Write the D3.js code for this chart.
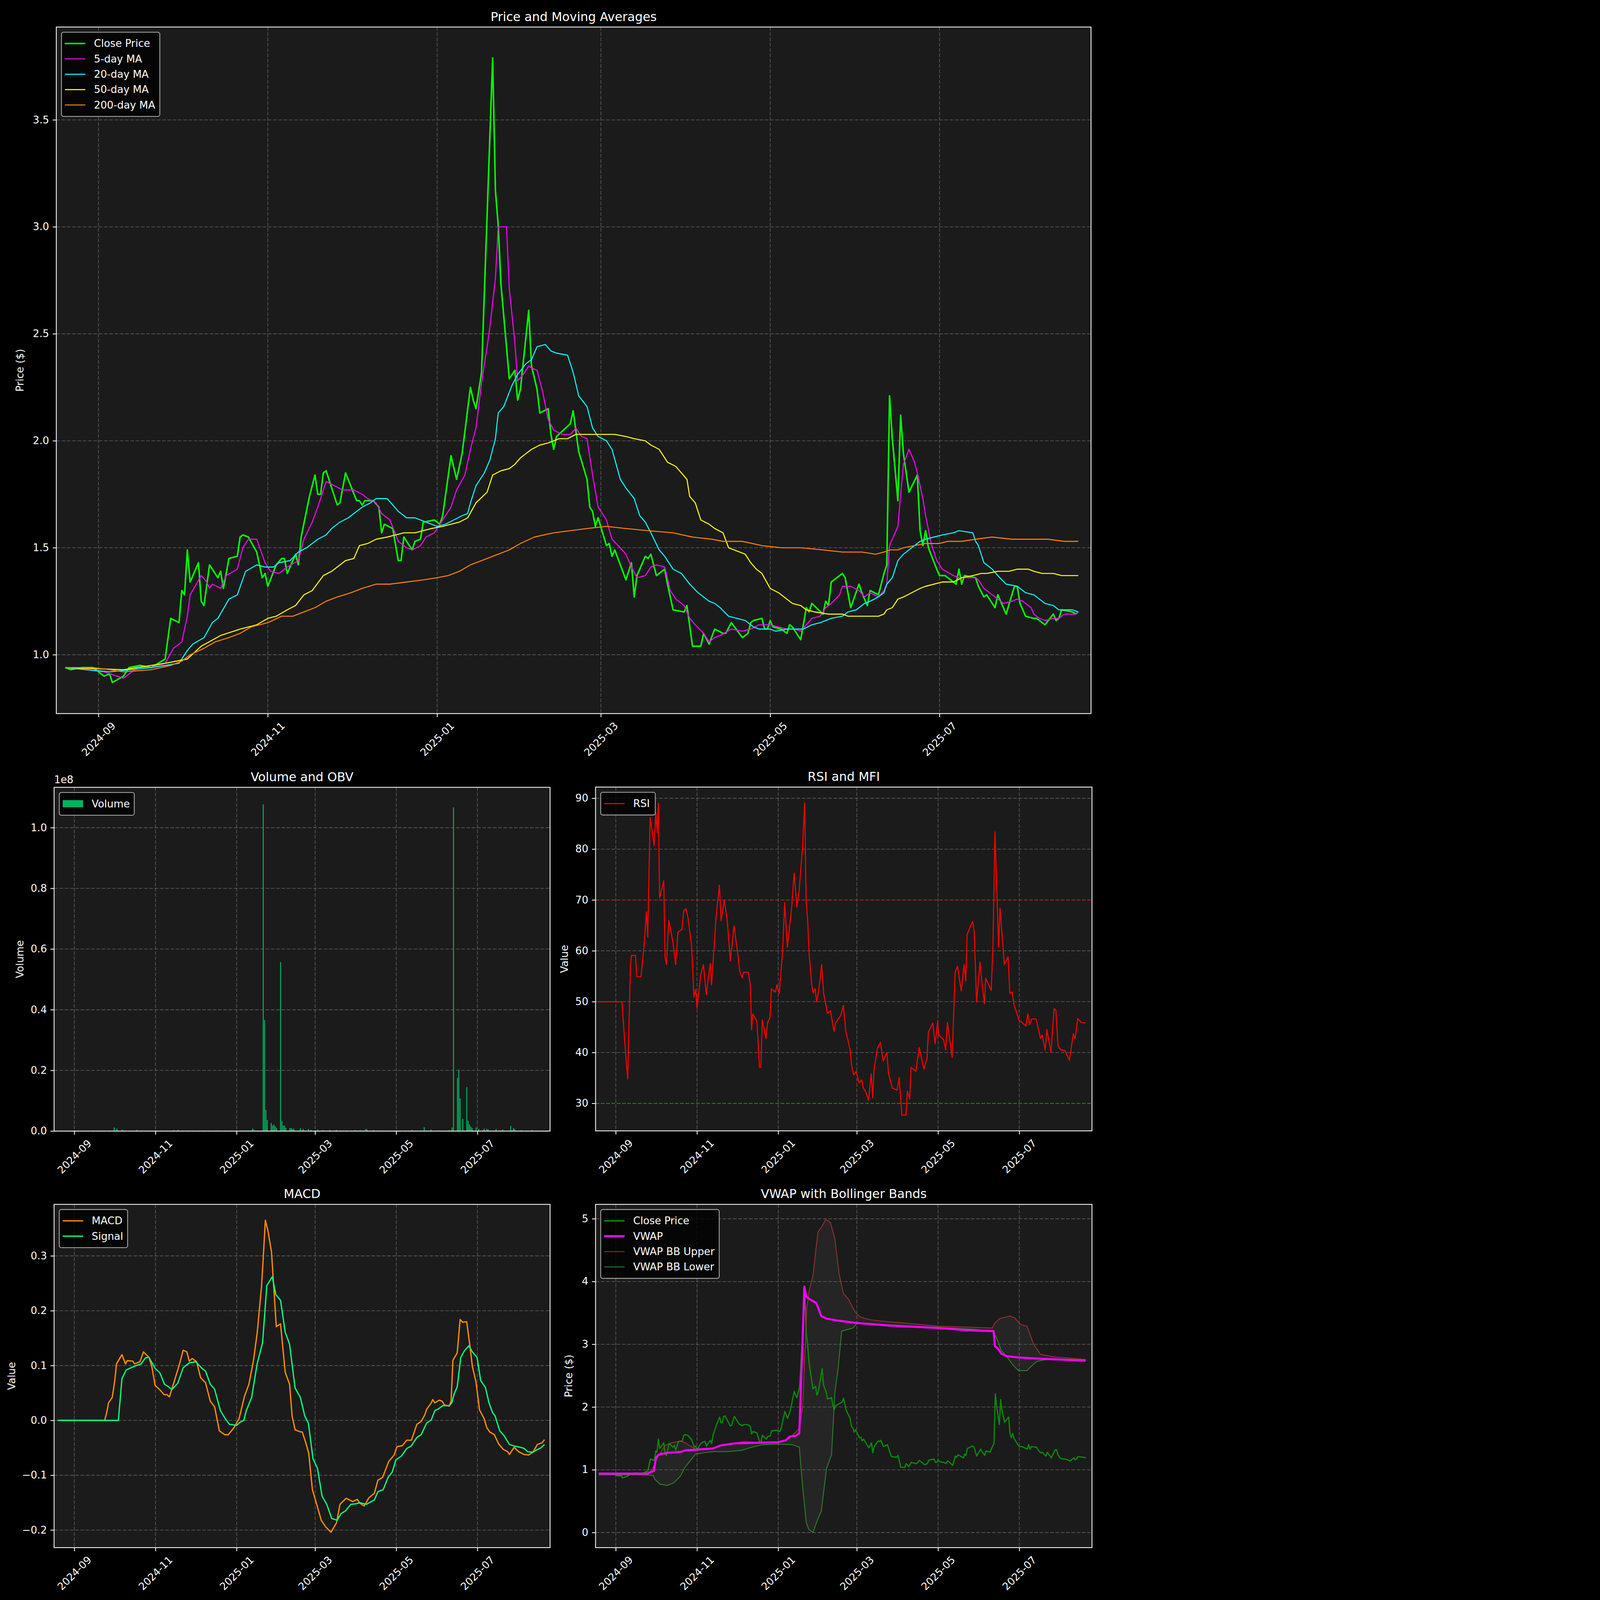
<!DOCTYPE html>
<html><head><meta charset="utf-8">
<script src="https://cdn.jsdelivr.net/npm/d3@7/dist/d3.min.js"></script>
<style>html,body{margin:0;padding:0;background:#000;overflow:hidden;}svg{display:block;font-family:"DejaVu Sans",sans-serif;}</style>
</head><body>
<script>
// ---------------- DATA ----------------
const closePrice = [["2024-08-20",.94],["2024-08-22",.93],["2024-08-26",.94],["2024-08-30",.94],["2024-09-03",.90],["2024-09-05",.91],["2024-09-06",.87],["2024-09-10",.90],["2024-09-12",.94],["2024-09-16",.95],["2024-09-20",.94],["2024-09-25",.98],["2024-09-27",1.17],["2024-09-30",1.15],["2024-10-01",1.30],["2024-10-02",1.28],["2024-10-03",1.49],["2024-10-04",1.34],["2024-10-07",1.43],["2024-10-08",1.25],["2024-10-09",1.23],["2024-10-11",1.42],["2024-10-14",1.36],["2024-10-15",1.39],["2024-10-16",1.31],["2024-10-18",1.45],["2024-10-21",1.46],["2024-10-22",1.55],["2024-10-23",1.56],["2024-10-25",1.55],["2024-10-28",1.48],["2024-10-30",1.36],["2024-10-31",1.38],["2024-11-01",1.32],["2024-11-04",1.42],["2024-11-06",1.45],["2024-11-07",1.45],["2024-11-08",1.38],["2024-11-11",1.47],["2024-11-12",1.42],["2024-11-13",1.55],["2024-11-16",1.74],["2024-11-18",1.84],["2024-11-19",1.75],["2024-11-20",1.75],["2024-11-21",1.85],["2024-11-22",1.86],["2024-11-26",1.70],["2024-11-27",1.71],["2024-11-29",1.85],["2024-12-03",1.72],["2024-12-04",1.72],["2024-12-05",1.70],["2024-12-06",1.72],["2024-12-09",1.72],["2024-12-11",1.69],["2024-12-12",1.57],["2024-12-13",1.61],["2024-12-16",1.59],["2024-12-18",1.44],["2024-12-19",1.44],["2024-12-20",1.55],["2024-12-23",1.49],["2024-12-24",1.53],["2024-12-26",1.54],["2024-12-27",1.62],["2024-12-31",1.63],["2025-01-02",1.61],["2025-01-03",1.65],["2025-01-06",1.93],["2025-01-08",1.82],["2025-01-10",1.94],["2025-01-13",2.25],["2025-01-14",2.19],["2025-01-15",2.15],["2025-01-17",2.32],["2025-01-21",3.79],["2025-01-22",3.17],["2025-01-23",3.01],["2025-01-24",2.73],["2025-01-27",2.29],["2025-01-28",2.31],["2025-01-29",2.33],["2025-01-30",2.19],["2025-01-31",2.24],["2025-02-03",2.61],["2025-02-04",2.35],["2025-02-06",2.24],["2025-02-07",2.13],["2025-02-10",2.15],["2025-02-11",2.03],["2025-02-12",1.96],["2025-02-13",2.02],["2025-02-18",2.08],["2025-02-19",2.14],["2025-02-21",1.95],["2025-02-24",1.82],["2025-02-25",1.69],["2025-02-26",1.67],["2025-02-27",1.60],["2025-02-28",1.64],["2025-03-03",1.51],["2025-03-04",1.52],["2025-03-05",1.46],["2025-03-06",1.49],["2025-03-10",1.35],["2025-03-12",1.43],["2025-03-13",1.27],["2025-03-14",1.37],["2025-03-17",1.46],["2025-03-18",1.45],["2025-03-19",1.47],["2025-03-21",1.37],["2025-03-24",1.40],["2025-03-25",1.33],["2025-03-27",1.21],["2025-03-31",1.20],["2025-04-01",1.23],["2025-04-03",1.04],["2025-04-06",1.04],["2025-04-07",1.10],["2025-04-09",1.05],["2025-04-11",1.12],["2025-04-14",1.10],["2025-04-15",1.10],["2025-04-17",1.15],["2025-04-21",1.08],["2025-04-23",1.10],["2025-04-24",1.15],["2025-04-25",1.16],["2025-04-28",1.17],["2025-04-29",1.12],["2025-04-30",1.12],["2025-05-01",1.16],["2025-05-02",1.13],["2025-05-05",1.12],["2025-05-07",1.10],["2025-05-08",1.14],["2025-05-09",1.13],["2025-05-12",1.07],["2025-05-14",1.22],["2025-05-15",1.20],["2025-05-16",1.24],["2025-05-20",1.19],["2025-05-21",1.25],["2025-05-22",1.23],["2025-05-23",1.34],["2025-05-27",1.38],["2025-05-28",1.36],["2025-05-30",1.22],["2025-06-02",1.33],["2025-06-03",1.29],["2025-06-05",1.23],["2025-06-06",1.30],["2025-06-09",1.28],["2025-06-11",1.38],["2025-06-12",1.42],["2025-06-13",2.21],["2025-06-14",2.01],["2025-06-16",1.72],["2025-06-17",2.12],["2025-06-18",1.94],["2025-06-20",1.76],["2025-06-23",1.84],["2025-06-24",1.58],["2025-06-25",1.51],["2025-06-26",1.58],["2025-06-27",1.50],["2025-06-30",1.40],["2025-07-01",1.37],["2025-07-03",1.37],["2025-07-07",1.33],["2025-07-08",1.40],["2025-07-09",1.33],["2025-07-10",1.37],["2025-07-14",1.36],["2025-07-15",1.32],["2025-07-17",1.27],["2025-07-18",1.28],["2025-07-21",1.22],["2025-07-22",1.28],["2025-07-24",1.22],["2025-07-25",1.19],["2025-07-28",1.32],["2025-07-29",1.32],["2025-07-30",1.24],["2025-08-01",1.18],["2025-08-04",1.17],["2025-08-05",1.17],["2025-08-08",1.14],["2025-08-11",1.19],["2025-08-12",1.16],["2025-08-13",1.17],["2025-08-14",1.21],["2025-08-18",1.20],["2025-08-19",1.19],["2025-08-20",1.20]];

const ma5 = [["2024-08-20",.94],["2024-09-03",.92],["2024-09-10",.89],["2024-09-15",.94],["2024-09-20",.94],["2024-09-25",.96],["2024-09-28",1.03],["2024-10-01",1.06],["2024-10-03",1.18],["2024-10-04",1.28],["2024-10-08",1.37],["2024-10-10",1.34],["2024-10-11",1.31],["2024-10-12",1.33],["2024-10-15",1.31],["2024-10-17",1.37],["2024-10-21",1.40],["2024-10-23",1.50],["2024-10-25",1.54],["2024-10-28",1.54],["2024-10-31",1.43],["2024-11-02",1.39],["2024-11-05",1.38],["2024-11-08",1.41],["2024-11-12",1.44],["2024-11-14",1.54],["2024-11-17",1.62],["2024-11-19",1.69],["2024-11-22",1.81],["2024-11-25",1.79],["2024-11-28",1.77],["2024-12-02",1.77],["2024-12-05",1.75],["2024-12-07",1.73],["2024-12-10",1.71],["2024-12-12",1.66],["2024-12-15",1.63],["2024-12-18",1.53],["2024-12-21",1.50],["2024-12-23",1.49],["2024-12-26",1.51],["2024-12-28",1.55],["2024-12-31",1.57],["2025-01-03",1.63],["2025-01-06",1.69],["2025-01-08",1.77],["2025-01-11",1.84],["2025-01-13",1.96],["2025-01-15",2.06],["2025-01-17",2.27],["2025-01-19",2.44],["2025-01-20",2.53],["2025-01-22",2.76],["2025-01-23",3.00],["2025-01-26",3.00],["2025-01-27",2.71],["2025-01-29",2.46],["2025-01-30",2.28],["2025-02-01",2.31],["2025-02-03",2.35],["2025-02-04",2.34],["2025-02-06",2.33],["2025-02-08",2.23],["2025-02-10",2.10],["2025-02-12",2.05],["2025-02-15",2.03],["2025-02-18",2.03],["2025-02-20",2.06],["2025-02-22",2.02],["2025-02-24",2.01],["2025-02-26",1.84],["2025-02-28",1.69],["2025-03-03",1.63],["2025-03-05",1.54],["2025-03-08",1.50],["2025-03-10",1.47],["2025-03-12",1.41],["2025-03-14",1.36],["2025-03-17",1.37],["2025-03-19",1.41],["2025-03-21",1.42],["2025-03-24",1.41],["2025-03-26",1.30],["2025-03-28",1.26],["2025-03-31",1.23],["2025-04-02",1.17],["2025-04-04",1.14],["2025-04-07",1.10],["2025-04-09",1.06],["2025-04-11",1.08],["2025-04-13",1.09],["2025-04-17",1.12],["2025-04-21",1.11],["2025-04-24",1.12],["2025-04-27",1.14],["2025-05-01",1.14],["2025-05-04",1.13],["2025-05-07",1.12],["2025-05-10",1.12],["2025-05-12",1.11],["2025-05-14",1.14],["2025-05-16",1.17],["2025-05-19",1.18],["2025-05-21",1.22],["2025-05-23",1.24],["2025-05-26",1.28],["2025-05-27",1.32],["2025-05-30",1.32],["2025-06-02",1.30],["2025-06-04",1.27],["2025-06-06",1.29],["2025-06-09",1.27],["2025-06-11",1.30],["2025-06-12",1.33],["2025-06-13",1.51],["2025-06-16",1.60],["2025-06-18",1.89],["2025-06-20",1.96],["2025-06-22",1.90],["2025-06-23",1.85],["2025-06-25",1.73],["2025-06-26",1.65],["2025-06-28",1.52],["2025-06-30",1.44],["2025-07-02",1.40],["2025-07-06",1.37],["2025-07-08",1.36],["2025-07-10",1.36],["2025-07-14",1.36],["2025-07-15",1.35],["2025-07-17",1.31],["2025-07-20",1.28],["2025-07-22",1.26],["2025-07-24",1.24],["2025-07-27",1.25],["2025-07-29",1.26],["2025-07-31",1.25],["2025-08-03",1.22],["2025-08-04",1.19],["2025-08-06",1.17],["2025-08-08",1.16],["2025-08-11",1.17],["2025-08-13",1.17],["2025-08-15",1.19],["2025-08-19",1.19],["2025-08-20",1.20]];

const ma20 = [["2024-08-20",.94],["2024-09-05",.92],["2024-09-20",.94],["2024-09-25",.95],["2024-09-30",.96],["2024-10-03",1.02],["2024-10-05",1.05],["2024-10-09",1.08],["2024-10-12",1.15],["2024-10-14",1.17],["2024-10-18",1.26],["2024-10-21",1.28],["2024-10-24",1.39],["2024-10-28",1.42],["2024-10-31",1.41],["2024-11-03",1.41],["2024-11-05",1.43],["2024-11-09",1.44],["2024-11-12",1.48],["2024-11-15",1.50],["2024-11-19",1.54],["2024-11-22",1.56],["2024-11-24",1.59],["2024-11-27",1.62],["2024-11-30",1.64],["2024-12-02",1.66],["2024-12-05",1.69],["2024-12-08",1.71],["2024-12-10",1.73],["2024-12-14",1.73],["2024-12-18",1.67],["2024-12-21",1.64],["2024-12-24",1.64],["2024-12-28",1.62],["2025-01-01",1.60],["2025-01-04",1.61],["2025-01-07",1.63],["2025-01-10",1.65],["2025-01-12",1.66],["2025-01-13",1.71],["2025-01-15",1.79],["2025-01-18",1.85],["2025-01-20",1.91],["2025-01-22",2.01],["2025-01-23",2.13],["2025-01-25",2.16],["2025-01-28",2.26],["2025-01-30",2.31],["2025-02-02",2.36],["2025-02-04",2.38],["2025-02-06",2.44],["2025-02-09",2.45],["2025-02-11",2.42],["2025-02-13",2.41],["2025-02-17",2.40],["2025-02-19",2.32],["2025-02-21",2.21],["2025-02-24",2.16],["2025-02-26",2.06],["2025-02-28",2.02],["2025-03-03",2.00],["2025-03-05",1.96],["2025-03-08",1.82],["2025-03-10",1.78],["2025-03-13",1.73],["2025-03-15",1.65],["2025-03-17",1.62],["2025-03-19",1.57],["2025-03-22",1.49],["2025-03-24",1.46],["2025-03-27",1.40],["2025-03-30",1.38],["2025-04-02",1.33],["2025-04-05",1.29],["2025-04-09",1.25],["2025-04-11",1.24],["2025-04-13",1.22],["2025-04-16",1.18],["2025-04-22",1.16],["2025-04-25",1.13],["2025-04-27",1.12],["2025-05-01",1.12],["2025-05-03",1.11],["2025-05-07",1.12],["2025-05-09",1.12],["2025-05-13",1.12],["2025-05-16",1.14],["2025-05-19",1.15],["2025-05-21",1.16],["2025-05-23",1.17],["2025-05-27",1.18],["2025-05-29",1.20],["2025-06-01",1.21],["2025-06-04",1.24],["2025-06-06",1.25],["2025-06-09",1.27],["2025-06-11",1.29],["2025-06-12",1.33],["2025-06-14",1.36],["2025-06-16",1.44],["2025-06-18",1.47],["2025-06-21",1.50],["2025-06-24",1.53],["2025-06-26",1.54],["2025-06-29",1.55],["2025-07-02",1.56],["2025-07-06",1.57],["2025-07-08",1.58],["2025-07-13",1.57],["2025-07-14",1.53],["2025-07-15",1.51],["2025-07-17",1.43],["2025-07-20",1.40],["2025-07-22",1.37],["2025-07-25",1.33],["2025-07-29",1.32],["2025-08-01",1.29],["2025-08-04",1.28],["2025-08-06",1.26],["2025-08-08",1.24],["2025-08-11",1.23],["2025-08-13",1.21],["2025-08-16",1.21],["2025-08-18",1.21],["2025-08-20",1.20]];

const ma50 = [["2024-08-20",.94],["2024-09-10",.93],["2024-09-25",.96],["2024-10-03",.98],["2024-10-08",1.04],["2024-10-15",1.09],["2024-10-22",1.12],["2024-10-28",1.14],["2024-11-01",1.17],["2024-11-04",1.18],["2024-11-08",1.21],["2024-11-11",1.23],["2024-11-14",1.28],["2024-11-17",1.30],["2024-11-21",1.37],["2024-11-24",1.39],["2024-11-26",1.41],["2024-11-29",1.44],["2024-12-02",1.45],["2024-12-04",1.51],["2024-12-07",1.52],["2024-12-10",1.54],["2024-12-14",1.55],["2024-12-17",1.56],["2024-12-20",1.57],["2024-12-24",1.57],["2024-12-27",1.58],["2024-12-30",1.59],["2025-01-03",1.60],["2025-01-06",1.61],["2025-01-09",1.62],["2025-01-12",1.64],["2025-01-15",1.71],["2025-01-19",1.76],["2025-01-21",1.84],["2025-01-24",1.86],["2025-01-27",1.87],["2025-01-29",1.89],["2025-01-31",1.92],["2025-02-02",1.94],["2025-02-04",1.96],["2025-02-07",1.98],["2025-02-10",1.99],["2025-02-12",2.00],["2025-02-14",2.01],["2025-02-17",2.01],["2025-02-20",2.03],["2025-02-24",2.03],["2025-03-01",2.03],["2025-03-06",2.03],["2025-03-10",2.02],["2025-03-13",2.01],["2025-03-17",2.00],["2025-03-19",1.98],["2025-03-22",1.96],["2025-03-25",1.90],["2025-03-28",1.88],["2025-04-01",1.82],["2025-04-02",1.74],["2025-04-04",1.71],["2025-04-06",1.63],["2025-04-09",1.61],["2025-04-11",1.59],["2025-04-14",1.57],["2025-04-16",1.50],["2025-04-22",1.47],["2025-04-24",1.43],["2025-04-26",1.40],["2025-04-28",1.38],["2025-05-01",1.31],["2025-05-04",1.29],["2025-05-06",1.27],["2025-05-09",1.24],["2025-05-12",1.23],["2025-05-14",1.21],["2025-05-17",1.20],["2025-05-22",1.19],["2025-05-27",1.19],["2025-05-29",1.18],["2025-06-01",1.18],["2025-06-05",1.18],["2025-06-09",1.18],["2025-06-11",1.19],["2025-06-12",1.21],["2025-06-14",1.22],["2025-06-16",1.26],["2025-06-18",1.27],["2025-06-21",1.29],["2025-06-24",1.31],["2025-06-26",1.32],["2025-06-29",1.33],["2025-07-02",1.34],["2025-07-06",1.34],["2025-07-09",1.36],["2025-07-13",1.37],["2025-07-16",1.38],["2025-07-18",1.38],["2025-07-22",1.39],["2025-07-26",1.39],["2025-07-29",1.40],["2025-08-02",1.40],["2025-08-04",1.39],["2025-08-07",1.38],["2025-08-11",1.38],["2025-08-14",1.37],["2025-08-18",1.37],["2025-08-20",1.37]];

const ma200 = [["2024-08-20",.94],["2024-08-30",.94],["2024-09-05",.93],["2024-09-10",.92],["2024-09-20",.93],["2024-09-27",.95],["2024-10-01",.97],["2024-10-04",1.00],["2024-10-09",1.03],["2024-10-13",1.06],["2024-10-18",1.08],["2024-10-22",1.10],["2024-10-26",1.13],["2024-11-01",1.15],["2024-11-06",1.18],["2024-11-10",1.18],["2024-11-14",1.20],["2024-11-18",1.22],["2024-11-22",1.25],["2024-11-26",1.27],["2024-12-01",1.29],["2024-12-05",1.31],["2024-12-10",1.33],["2024-12-15",1.33],["2024-12-21",1.34],["2024-12-27",1.35],["2025-01-01",1.36],["2025-01-05",1.37],["2025-01-09",1.39],["2025-01-13",1.42],["2025-01-17",1.44],["2025-01-21",1.46],["2025-01-27",1.49],["2025-01-31",1.52],["2025-02-05",1.55],["2025-02-12",1.57],["2025-02-18",1.58],["2025-02-24",1.59],["2025-03-03",1.60],["2025-03-10",1.59],["2025-03-18",1.58],["2025-03-27",1.57],["2025-04-03",1.55],["2025-04-10",1.54],["2025-04-14",1.53],["2025-04-21",1.53],["2025-04-28",1.51],["2025-05-05",1.50],["2025-05-12",1.50],["2025-05-20",1.49],["2025-05-27",1.48],["2025-06-03",1.48],["2025-06-08",1.47],["2025-06-11",1.48],["2025-06-13",1.49],["2025-06-16",1.49],["2025-06-18",1.50],["2025-06-22",1.51],["2025-06-26",1.52],["2025-07-01",1.52],["2025-07-04",1.53],["2025-07-09",1.53],["2025-07-14",1.54],["2025-07-20",1.55],["2025-07-27",1.54],["2025-08-03",1.54],["2025-08-09",1.54],["2025-08-15",1.53],["2025-08-20",1.53]];

// days counted from 2024-09-01
const volumeDays = [30,32,36,47,75,78,107,127,131,134,135,142,143,144,145,148,149,150,151,152,155,156,157,158,159,162,163,164,165,170,172,176,178,183,187,192,197,204,211,215,219,220,225,231,254,263,268,274,282,284,285,288,289,290,292,295,296,297,298,299,302,304,308,310,311,317,322,328,330,331,336,344];
const volumeVals = [.012,.008,.005,.004,.003,.004,.002,.002,.002,.008,.005,1.077,.366,.07,.037,.027,.018,.022,.016,.01,.557,.033,.018,.018,.011,.01,.01,.007,.008,.009,.007,.007,.004,.005,.003,.004,.004,.002,.003,.003,.007,.005,.003,.002,.004,.013,.005,.002,.004,.012,1.067,.175,.203,.108,.04,.145,.034,.022,.015,.01,.012,.007,.008,.007,.006,.007,.005,.017,.01,.007,.003,.003];

const rsiDays = [-12.8,4.6,6.4,8.9,11,11.7,14.8,15.8,18.9,21.2,23,24,25.8,28.8,30.1,31.1,31.9,32.9,36,37,38,39.8,42.9,44.9,46.7,49.7,51,52.6,54.1,56.9,58.7,59.9,61,63.8,65.8,67.9,70.9,71.9,75.3,77.8,79.1,81.4,83.7,86,88.8,91.8,93.1,94.9,95.9,99.5,101,102,102.8,105.9,107.9,108.9,110,112.8,114,115.8,116.8,119.9,120.9,122.7,125.3,126.8,128.8,132.1,133.9,136,137.8,140.3,141.8,142.9,144.1,145.2,147.2,148.2,149.7,150.8,152.6,154.6,156.1,158.2,158.9,161.2,163.8,165,169.1,170.9,172.7,176,177,178.6,180.6,182.7,184.7,185.7,188,189.8,191.8,192.9,193.9,196.4,198.7,200.8,203.6,204.8,207.7,211.2,212.8,214.8,217.9,218.9,220.7,221.7,225.3,227.8,231.4,233.7,234.7,238,239.8,241.8,242.3,246.2,247.7,249,252.6,254.8,256.6,259.4,261.5,262.8,263.8,267.9,269.1,270.9,273.5,274.7,276.8,277.8,281.9,283.2,284.7,286.2,287.5,288.5,291.8,294.6,295.9,297.7,299,302.8,307.9,309.4,310.7,312.2,315.6,318.9,320.2,322.4,323.7,326.8,329.1,330.4,332.1,334.2,337.2,340.6,343.6,344.9,346.9,349.5,352.8];
const rsiVals = [50,50,43.2,34.8,57,59.1,59.1,54.9,54.9,61,67.7,62.7,86.2,80.7,87.2,83.2,89,70.4,73.8,58.8,57.3,66,61.7,57.3,63.7,64.2,67.9,68.3,66.7,61,50.9,52.4,48.7,55.3,57.3,51.4,57.5,53.3,66.7,72.9,65.9,70,65.9,58,64.9,59,56,54.7,55.8,55.8,53.3,44.5,47.6,46.2,37.1,37.1,46.4,42.7,45.9,46.9,52.5,51.9,53.3,51.6,60,69.5,60.7,68.6,75.3,68.6,72.1,80.7,89.1,69.9,65.9,59.3,53.1,51.7,52.5,49.9,52.6,57.3,51.6,48.7,47.7,48.2,44.2,45.8,47.4,49.3,44.2,40.5,37.6,35.6,36.3,34,34.6,33.1,32.1,30.6,35.8,31.1,36.6,40.8,42,38.3,40,35.8,33,32.6,35.1,27.7,27.7,32.4,30.9,37.1,36.3,41,36.7,38.9,44,45.8,41.7,46.3,43.5,42.5,40.5,45.9,39,55.8,57,52.1,57.3,54.1,63.2,65.8,64,49.9,57.8,54.3,49.6,54.6,52.2,61.2,83.4,70.9,60.7,68.4,57.3,58.8,51.6,51.9,49.4,46.4,45.2,47.6,45.5,46.6,46.6,42.8,43.4,40.5,44.5,40,48.6,48.4,41.3,40.5,40.4,38.5,43.7,42.7,46.7,45.9,45.8];

const macdDays = [-12.5,22.8,24.4,25.7,28.5,30.4,31.7,35.8,38.5,39.8,43.9,45.3,49.3,52,56.1,58.3,60.7,64.2,67.5,69.6,71.5,75.1,79.1,81.8,84.6,86.4,88.6,91.9,94.9,98.6,102.2,105.4,109,113,115.7,119.8,123.8,127.9,131.2,134.7,137.4,140.7,142.3,143.6,145.5,148.2,150.9,151.8,155,158.5,161.8,163.7,165.9,169.9,171.3,174,176.2,178.9,181.6,185.6,188.9,192.9,197,199.7,204.3,209.2,212.7,214.6,217.9,221.4,225.5,228.2,231.7,236.3,240.4,242.5,246.6,249.9,253.4,257.5,260.7,263.4,264.8,268.3,269.4,271,274.3,276.4,278.3,281.8,283.2,284.6,287.8,290,291.9,294.9,297.3,299.2,301.9,304.6,308.1,310,312.2,315.7,319,322.5,325.7,327.1,330.6,333.9,337.9,341.5,344.7,348,351.5,353.4];
const macdVals = [0,0,.015,.032,.042,.073,.103,.12,.103,.109,.108,.103,.107,.125,.115,.098,.064,.056,.047,.047,.043,.071,.103,.128,.125,.108,.113,.107,.078,.069,.035,.025,-.019,-.026,-.026,-.014,.003,.044,.066,.11,.159,.244,.309,.365,.346,.307,.205,.171,.176,.088,.066,.008,-.017,-.021,-.021,-.041,-.06,-.126,-.148,-.182,-.194,-.204,-.187,-.153,-.142,-.148,-.144,-.151,-.156,-.141,-.133,-.109,-.104,-.075,-.063,-.048,-.046,-.036,-.036,-.007,-.002,.01,.02,.032,.038,.032,.037,.035,.028,.026,.035,.11,.123,.184,.179,.18,.137,.098,.07,.019,.003,-.013,-.021,-.026,-.043,-.053,-.057,-.062,-.049,-.057,-.062,-.063,-.058,-.044,-.041,-.035];
const signalDays = [-12.5,33.1,35.8,39,42.5,46.6,50.1,53.4,56.1,60.7,64.2,67.8,71,73.2,77.8,81.8,86.4,91.3,95.9,98.6,102.2,105.4,109.8,113,116.5,122,124.7,127.4,129.3,133.3,137.4,141.5,144.7,148.8,151.5,155,158.5,161.8,165.9,169.9,173.2,175.9,179.4,182.7,186.2,189.7,193.5,197.6,200.5,203.8,207.9,211.9,214.6,219.5,223.3,225.5,228.2,232.2,235.8,239,241.7,245.8,249.9,253.1,257.5,260.7,264.8,268.3,271,273.7,277,281.8,283.7,285.6,287.8,290.5,293.2,296.5,299.2,302.7,305.4,309,311.7,314.4,316.3,319.8,323.1,327.1,331.2,335.3,338,340.7,344.7,348,350.1,353.4];
const signalVals = [0,0,.076,.092,.096,.1,.103,.114,.115,.095,.087,.066,.061,.056,.068,.096,.105,.107,.095,.09,.066,.057,.018,.005,-.007,-.009,-.003,0,.018,.042,.103,.142,.246,.262,.229,.219,.161,.139,.059,.042,.008,-.005,-.07,-.087,-.138,-.153,-.179,-.182,-.17,-.165,-.153,-.152,-.15,-.153,-.148,-.145,-.13,-.126,-.104,-.094,-.072,-.065,-.051,-.047,-.031,-.026,-.005,.001,.018,.021,.027,.027,.032,.049,.061,.115,.127,.136,.125,.115,.073,.06,.032,.014,.008,-.019,-.028,-.044,-.047,-.049,-.051,-.057,-.058,-.053,-.051,-.044];

const vwapDays = [-12.8,24.2,26.8,28.6,30.1,31.9,38.3,45.9,49.7,52.3,59.9,72.7,79.1,89.3,104.6,121.9,127.6,130.6,134.7,137.8,140.3,141.6,142.9,145.4,150.5,152,154.3,158.2,165.8,180.9,204.1,241.8,267.9,283.7,284.7,287,289.5,293.4,302.6,318.9,352.8];
const vwapVals = [.94,.94,.97,.98,1.19,1.24,1.27,1.28,1.29,1.31,1.32,1.34,1.39,1.42,1.43,1.44,1.47,1.53,1.54,1.58,3.07,3.92,3.77,3.72,3.66,3.58,3.45,3.41,3.38,3.34,3.30,3.26,3.22,3.21,2.97,2.93,2.85,2.81,2.79,2.77,2.74];
const bbUpperDays = [-12.8,23,26.8,29.3,31.9,37,42.1,48.5,52.3,56.6,59.9,63.8,72.7,79.1,89.3,96.9,104.6,121.9,130.1,137.8,140.3,141.6,143.4,145.4,148,151.8,154.3,157.7,161.2,164.5,167.8,170.9,174.7,178.1,180.6,184.2,191.3,204.1,216.8,241.8,267.9,282.7,284.7,288.3,295.9,299.7,303.6,308.7,313.8,318.9,329.1,352.8];
const bbUpperVals = [.94,.95,.98,1.10,1.22,1.39,1.43,1.46,1.43,1.37,1.33,1.34,1.34,1.39,1.43,1.45,1.44,1.44,1.49,1.66,2.00,2.64,3.58,3.87,4.09,4.79,4.86,4.99,4.94,4.68,4.11,3.81,3.72,3.58,3.49,3.43,3.39,3.36,3.34,3.29,3.27,3.26,3.34,3.41,3.45,3.42,3.32,3.29,3.00,2.84,2.80,2.76];
const bbLowerDays = [-12.8,23,28.1,29.3,33.2,38.3,43.4,48.5,52.3,56.6,59.9,68.9,74,84.2,94.4,102,109.7,121.9,132.7,137.8,140.3,142.9,144.9,148,151.8,154.3,158.2,162,164.5,167.1,169.6,174.7,178.1,181.1,183.7,204.1,241.8,267.9,282.7,285.7,289.5,293.4,298.5,302.6,308.7,312.5,316.3,324,352.8];
const bbLowerVals = [.92,.92,.91,.85,.77,.75,.79,.90,1.05,1.16,1.25,1.28,1.29,1.29,1.31,1.36,1.40,1.41,1.40,1.36,.73,.17,.05,0,.22,.34,1.02,1.24,2.22,2.64,3.21,3.24,3.26,3.33,3.34,3.31,3.27,3.24,3.21,3.11,2.90,2.81,2.66,2.58,2.58,2.66,2.73,2.76,2.73];

const xTickLabels = ["2024-09","2024-11","2025-01","2025-03","2025-05","2025-07"];
const priceTicks = [1.0,1.5,2.0,2.5,3.0,3.5];
const volumeTicks = [0,0.2,0.4,0.6,0.8,1.0];
const rsiTicks = [30,40,50,60,70,80,90];
const macdTicks = [-0.2,-0.1,0,0.1,0.2,0.3];
const vwapTicks = [0,1,2,3,4,5];

// ---------------- DRAWING ----------------
const W = 4470, H = 6507, FS = 41.7;
const parse = d3.timeParse("%Y-%m-%d");
const base = new Date(2024, 8, 1);
const fromDay = d => d3.timeHour.offset(base, Math.round(d * 24));
const pairs = arr => arr.map(d => ({x: parse(d[0]), y: d[1]}));
const zip = (ds, vs) => ds.map((d, i) => ({x: fromDay(d), y: vs[i]}));

const svg = d3.select("body").append("svg")
  .attr("viewBox", `0 0 ${W} ${H}`).attr("preserveAspectRatio", "xMinYMin meet")
  .style("width", "100vw").style("height", "100vh");
svg.append("rect").attr("width", W).attr("height", H).attr("fill", "#000");

const xDom = [fromDay(-15.2), fromDay(357.6)];

function panel(o) {
  const g = svg.append("g").attr("transform", `translate(${o.x},${o.y})`);
  const x = d3.scaleTime().domain(o.xDom || xDom).range([0, o.w]);
  const y = d3.scaleLinear().domain(o.yDom).range([o.h, 0]);
  g.append("rect").attr("width", o.w).attr("height", o.h).attr("fill", "#1b1b1b");
  const xt = xTickLabels.map(s => d3.timeParse("%Y-%m")(s));
  g.selectAll(".gx").data(xt).join("line").attr("x1", d => x(d)).attr("x2", d => x(d))
    .attr("y1", 0).attr("y2", o.h).attr("stroke", "#7a7a7a").attr("stroke-opacity", .7)
    .attr("stroke-width", 2.5).attr("stroke-dasharray", "15,6.5");
  g.selectAll(".gy").data(o.yTicks).join("line").attr("y1", d => y(d)).attr("y2", d => y(d))
    .attr("x1", 0).attr("x2", o.w).attr("stroke", "#7a7a7a").attr("stroke-opacity", .7)
    .attr("stroke-width", 2.5).attr("stroke-dasharray", "15,6.5");
  const clip = "c" + Math.round(o.x) + "_" + Math.round(o.y);
  g.append("clipPath").attr("id", clip).append("rect").attr("width", o.w).attr("height", o.h);
  const plot = g.append("g").attr("clip-path", `url(#${clip})`);
  const axes = g.append("g");
  const xa = axes.append("g").attr("transform", `translate(0,${o.h})`)
    .call(d3.axisBottom(x).tickValues(xt).tickFormat(d3.timeFormat("%Y-%m")).tickSize(14.6).tickPadding(0));
  xa.select(".domain").remove();
  xa.selectAll("line").attr("stroke", "#fff").attr("stroke-width", 3.3);
  xa.selectAll("text").attr("fill", "#fff").attr("font-size", FS).attr("font-family", "DejaVu Sans")
    .attr("text-anchor", "middle").attr("dominant-baseline", "central").attr("dy", null)
    .attr("transform", "translate(0,104) rotate(-45)").attr("y", 0);
  const ya = axes.append("g").call(d3.axisLeft(y).tickValues(o.yTicks).tickFormat(o.fmt).tickSize(14.6).tickPadding(14.6));
  ya.select(".domain").remove();
  ya.selectAll("line").attr("stroke", "#fff").attr("stroke-width", 3.3);
  ya.selectAll("text").attr("fill", "#fff").attr("font-size", FS).attr("font-family", "DejaVu Sans");
  axes.append("rect").attr("width", o.w).attr("height", o.h).attr("fill", "none").attr("stroke", "#fff").attr("stroke-width", 3.3);
  svg.append("text").attr("x", o.x + o.w / 2).attr("y", o.y - 25).attr("text-anchor", "middle")
    .attr("fill", "#fff").attr("font-size", 50).text(o.title);
  svg.append("text").attr("transform", `translate(${o.labX},${o.y + o.h / 2}) rotate(-90)`)
    .attr("text-anchor", "middle").attr("fill", "#fff").attr("font-size", FS).text(o.ylabel);
  return {g, plot, x, y, o};
}
function line(p, data, color, w, op) {
  p.plot.append("path").datum(data).attr("fill", "none").attr("stroke", color)
    .attr("stroke-width", w).attr("stroke-opacity", op || 1).attr("stroke-linejoin", "round")
    .attr("d", d3.line().x(d => p.x(d.x)).y(d => p.y(d.y)));
}
function legend(p, items, boxW) {
  const lg = p.g.append("g").attr("transform", "translate(21,21)");
  const rowH = 62.5, hgt = items.length * rowH + 30;
  lg.append("rect").attr("width", boxW).attr("height", hgt).attr("rx", 8)
    .attr("fill", "#000").attr("fill-opacity", .8).attr("stroke", "#aaa").attr("stroke-width", 3.3);
  items.forEach((it, i) => {
    const cy = 46 + i * rowH;
    if (it.patch) lg.append("rect").attr("x", 14).attr("y", cy - 15).attr("width", 83).attr("height", 29).attr("fill", it.c);
    else lg.append("line").attr("x1", 14).attr("x2", 97).attr("y1", cy).attr("y2", cy)
      .attr("stroke", it.c).attr("stroke-width", it.w).attr("stroke-opacity", it.op || 1);
    lg.append("text").attr("x", 132).attr("y", cy).attr("dominant-baseline", "central")
      .attr("fill", "#fff").attr("font-size", FS).text(it.t);
  });
}
const fmt1 = d3.format(".1f");
const minusFmt = d => (d < 0 ? "\u2212" : "") + d3.format(".1f")(Math.abs(d));

const p1 = panel({x: 229, y: 110, w: 4208, h: 2792, yDom: [0.725, 3.934], yTicks: priceTicks, fmt: fmt1,
  title: "Price and Moving Averages", ylabel: "Price ($)", labX: 95});
line(p1, pairs(closePrice), "#00ff00", 6.2);
line(p1, pairs(ma5), "#ff00ff", 4.2);
line(p1, pairs(ma20), "#00ffff", 4.2);
line(p1, pairs(ma50), "#ffff00", 4.2);
line(p1, pairs(ma200), "#ff8000", 4.2);
legend(p1, [{t:"Close Price",c:"#00ff00",w:6.2},{t:"5-day MA",c:"#ff00ff",w:4.2},{t:"20-day MA",c:"#00ffff",w:4.2},{t:"50-day MA",c:"#ffff00",w:4.2},{t:"200-day MA",c:"#ff8000",w:4.2}], 400);

const p2 = panel({x: 220, y: 3202, w: 2017, h: 1398, yDom: [0, 1.133], yTicks: volumeTicks, fmt: fmt1,
  title: "Volume and OBV", ylabel: "Volume", labX: 95});
const volData = zip(volumeDays, volumeVals);
p2.plot.selectAll(".bar").data(volData).join("rect")
  .attr("x", d => p2.x(d.x) - 2).attr("width", 4)
  .attr("y", d => p2.y(d.y)).attr("height", d => p2.y(0) - p2.y(d.y)).attr("fill", "#00b35f");
svg.append("text").attr("x", 220).attr("y", 3185).attr("fill", "#fff").attr("font-size", FS).text("1e8");
legend(p2, [{t:"Volume",c:"#00b35f",patch:true}], 305);

const p3 = panel({x: 2422, y: 3201, w: 2019, h: 1398, yDom: [24.6, 92.2], yTicks: rsiTicks, fmt: d3.format("d"),
  title: "RSI and MFI", ylabel: "Value", labX: 2310});
[[70, "#ff0000"], [30, "#00aa00"]].forEach(([v, c]) => {
  p3.plot.append("line").attr("x1", 0).attr("x2", p3.o.w).attr("y1", p3.y(v)).attr("y2", p3.y(v))
    .attr("stroke", c).attr("stroke-opacity", .5).attr("stroke-width", 4).attr("stroke-dasharray", "15,6.5");
});
line(p3, zip(rsiDays, rsiVals), "#ff0000", 4.2);
legend(p3, [{t:"RSI",c:"#ff0000",w:4.2}], 222);

const p4 = panel({x: 220, y: 4898, w: 2017, h: 1396, yDom: [-0.232, 0.394], yTicks: macdTicks, fmt: minusFmt,
  title: "MACD", ylabel: "Value", labX: 62});
line(p4, zip(macdDays, macdVals), "#ff8c00", 5.2);
line(p4, zip(signalDays, signalVals), "#00ff7f", 5.2);
legend(p4, [{t:"MACD",c:"#ff8c00",w:5.2},{t:"Signal",c:"#00ff7f",w:5.2}], 278);

const p5 = panel({x: 2422, y: 4898, w: 2019, h: 1396, yDom: [-0.24, 5.23], yTicks: vwapTicks, fmt: d3.format("d"),
  title: "VWAP with Bollinger Bands", ylabel: "Price ($)", labX: 2328});
const up = zip(bbUpperDays, bbUpperVals), lo = zip(bbLowerDays, bbLowerVals);
const bandPoly = up.map(d => [p5.x(d.x), p5.y(d.y)]).concat(lo.slice().reverse().map(d => [p5.x(d.x), p5.y(d.y)]));
p5.plot.append("path").attr("d", "M" + bandPoly.join("L") + "Z").attr("fill", "#808080").attr("fill-opacity", .1);
line(p5, pairs(closePrice), "#0a8a0a", 5);
line(p5, up, "#b03a30", 3.5, .8);
line(p5, lo, "#2f9a2f", 3.5, .8);
line(p5, zip(vwapDays, vwapVals), "#ff00ff", 8.3);
legend(p5, [{t:"Close Price",c:"#0a8a0a",w:6},{t:"VWAP",c:"#ff00ff",w:8.3},{t:"VWAP BB Upper",c:"#b03a30",w:3.5,op:.8},{t:"VWAP BB Lower",c:"#2f9a2f",w:3.5,op:.8}], 482);
</script>
</body></html>
